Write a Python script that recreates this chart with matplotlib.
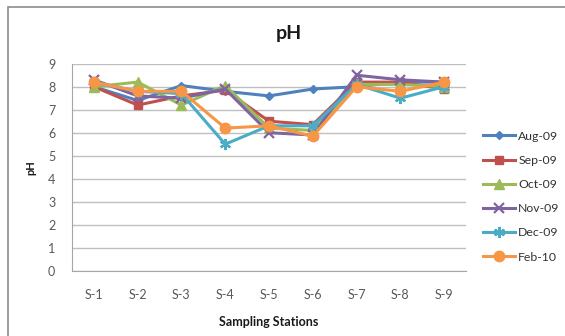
import matplotlib
matplotlib.use('Agg')
import matplotlib.pyplot as plt
from matplotlib.patches import Rectangle

plt.rcParams['font.family'] = ['Lato', 'DejaVu Sans']

stations = ['S-1', 'S-2', 'S-3', 'S-4', 'S-5', 'S-6', 'S-7', 'S-8', 'S-9']

aug09 = [8.0, 7.4, 8.05, 7.8, 7.6, 7.9, 8.0, 8.2, 8.2]
sep09 = [8.0, 7.2, 7.6, 7.85, 6.5, 6.35, 8.2, 8.2, 7.9]
oct09 = [8.0, 8.2, 7.2, 8.05, 6.2, 6.1, 8.1, 8.1, 8.0]
nov09 = [8.3, 7.6, 7.5, 7.9, 6.0, 5.9, 8.5, 8.3, 8.2]
dec09 = [8.2, 7.8, 7.7, 5.5, 6.3, 6.3, 8.1, 7.5, 8.0]
feb10 = [8.2, 7.8, 7.8, 6.2, 6.3, 5.85, 8.0, 7.8, 8.2]

series = [
    ('Aug-09', aug09, '#4F81BD', 'D', 4.5),
    ('Sep-09', sep09, '#C0504D', 's', 6),
    ('Oct-09', oct09, '#9BBB59', '^', 6.5),
    ('Nov-09', nov09, '#8064A2', 'x', 7),
    ('Dec-09', dec09, '#4BACC6', (6, 2, 0), 8),
    ('Feb-10', feb10, '#F79646', 'o', 7.5),
]

fig = plt.figure(figsize=(5.65, 3.36), dpi=100)

# chart box outline
fig.patches.append(Rectangle((8 / 565, -0.05), 1.2, 1 - 7 / 336 + 0.05,
                             transform=fig.transFigure, fill=False,
                             edgecolor='#8C8C8C', linewidth=1.2))

ax = fig.add_axes([0.1274, 0.1943, 0.6974, 0.6161])
x = list(range(len(stations)))
for name, vals, col, mk, ms in series:
    ax.plot(x, vals, color=col, marker=mk, markersize=ms, linewidth=2.2,
            markeredgewidth=1.6 if mk in ('x', (6, 2, 0)) else 1,
            markeredgecolor=col, label=name)

ax.set_xlim(-0.5, len(stations) - 0.5)
ax.set_ylim(0, 9)
ax.set_yticks(range(10))
ax.set_xticks(x)
ax.set_xticklabels(stations)
ax.yaxis.grid(True, color='#BFBFBF', linewidth=1)
ax.set_axisbelow(True)
for s in ['top', 'right']:
    ax.spines[s].set_visible(False)
for s in ['left', 'bottom']:
    ax.spines[s].set_color('#A6A6A6')
ax.tick_params(axis='both', colors='#595959', labelsize=9, length=0)
ax.tick_params(axis='y', pad=12)
ax.tick_params(axis='x', pad=13)

# title is centred on the whole chart box, not the plot area
fig.text(289 / 565, 1 - 34 / 336, 'pH', ha='center', va='center',
         fontsize=14, fontweight='bold', color='#1a1a1a')
ax.set_xlabel('Sampling Stations', fontsize=9, fontweight='bold', color='#1a1a1a', labelpad=11)
ax.set_ylabel('pH', fontsize=8, fontweight='bold', color='#1a1a1a', labelpad=8)

ax.legend(loc='upper left', bbox_to_anchor=(1.015, 0.73), frameon=False, fontsize=8.8,
          labelcolor='#333333', handlelength=2.6, labelspacing=1.08, handletextpad=0.3)

fig.savefig('out.png', dpi=100)
